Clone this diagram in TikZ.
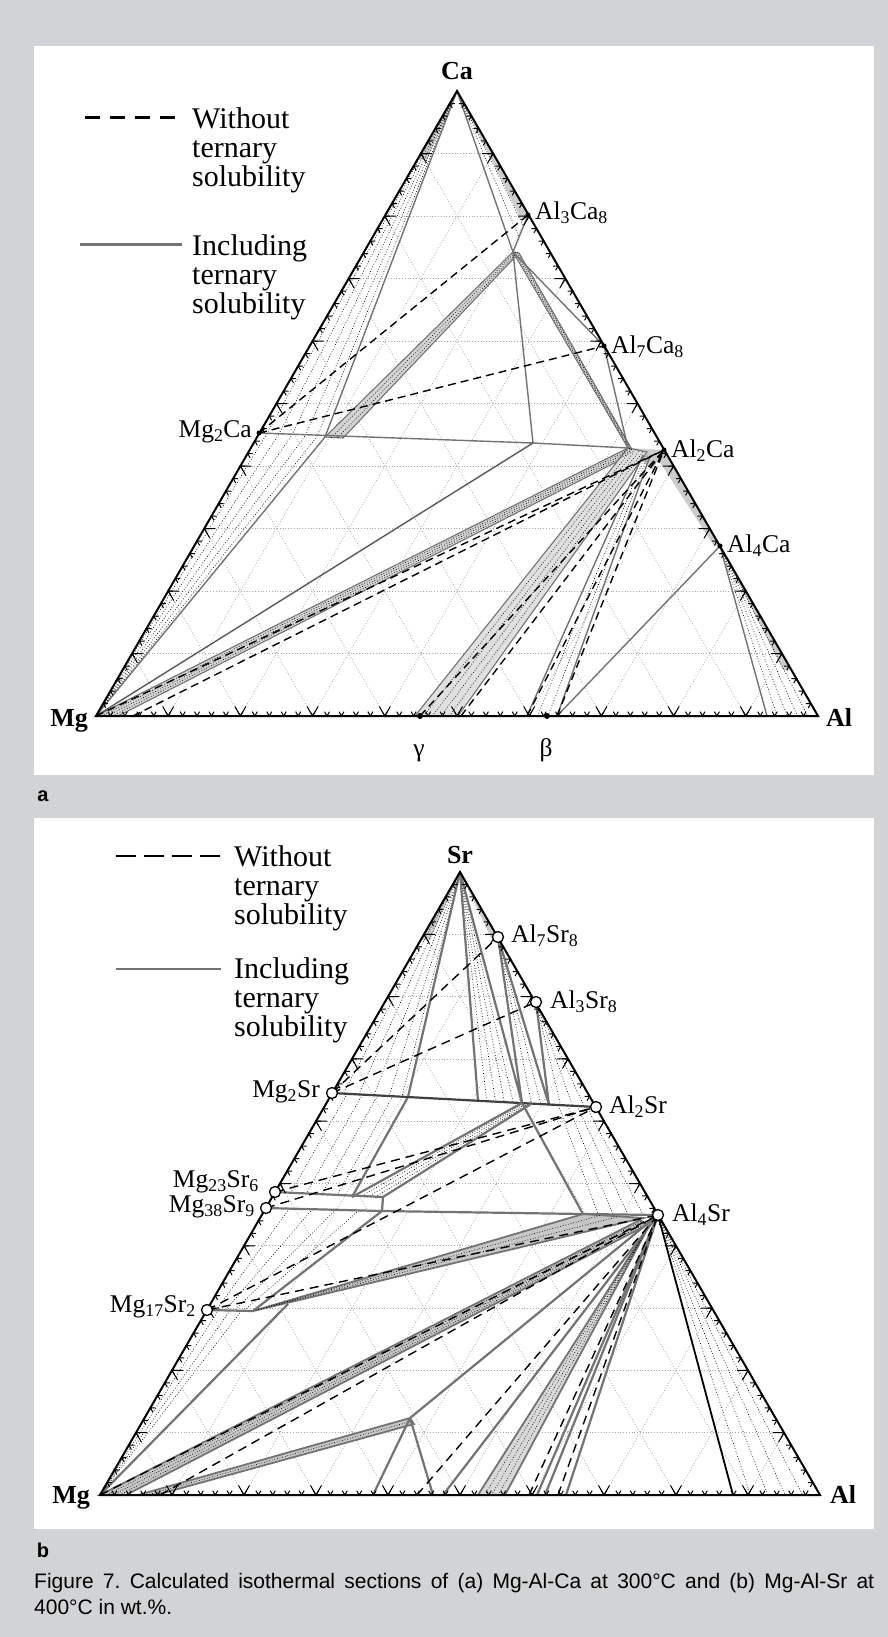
\documentclass[tikz,border=0pt]{standalone}
\usepackage{fontspec}
\setmainfont{Liberation Serif}
\setsansfont{Liberation Sans}
\usetikzlibrary{calc}
\definecolor{pagegray}{RGB}{210,211,213}
\definecolor{solgray}{RGB}{115,115,115}
\tikzset{rim/.style={line width=2pt,line join=miter},
gridln/.style={draw=black!35,dotted,line width=0.8pt},
tk/.style={line width=1pt},
withSol/.style={draw=solgray,line width=1.4pt},
withSolB/.style={draw=solgray,line width=2.2pt},
noSol/.style={dash pattern=on 8pt off 5pt,line width=1.4pt},
noSolB/.style={dash pattern=on 9pt off 6pt,line width=1.4pt},
tie/.style={dotted,line width=0.7pt},
band/.style={fill=black!17,draw=solgray,line width=1.1pt},
bandB/.style={fill=black!22,draw=solgray,line width=1.8pt},
lbl/.style={font=\fontsize{25.5}{26}\selectfont,inner sep=0pt},
elem/.style={font=\bfseries\fontsize{26}{26}\selectfont,inner sep=0pt},
keytext/.style={font=\fontsize{30}{29}\selectfont,align=left,inner sep=0pt,anchor=north west},
dotpt/.style={circle,fill=black,inner sep=0pt,minimum size=5pt},
ring/.style={circle,draw,fill=white,line width=1.3pt,inner sep=0pt,minimum size=11pt}}

\begin{document}
\frenchspacing
\begin{tikzpicture}[x=1pt,y=-1pt]
\fill[pagegray] (0,0) rectangle (888,1637);
\useasboundingbox (0,0) rectangle (888,1637);
\fill[white] (34,46) rectangle (874,775);
\fill[white] (34,818) rectangle (874,1529);

% ---------------- (a) Mg-Al-Ca ----------------
\coordinate (MgA) at (96,716);
\coordinate (AlA) at (818,716);
\coordinate (CaA) at (457,91);
\coordinate (Al3Ca8) at (528,215);
\coordinate (Al7Ca8) at (604,346);
\coordinate (Al2Ca) at (664,450);
\coordinate (Al4Ca) at (720,546);
\coordinate (Mg2Ca) at (259,433);
\coordinate (tA) at (513,252);
\coordinate (tB) at (533,443);
\coordinate (pL) at (628,448);
\coordinate (pM) at (634,453);
\coordinate (pR) at (647,452);
\coordinate (tP) at (519,253);
\coordinate (qA) at (325,437);
\coordinate (qB) at (343,438);
\coordinate (qT) at (517,255);
\coordinate (bT1) at (643,455);
\coordinate (bT2) at (650,456);
\coordinate (mgS) at (118,716);
\coordinate (mgT) at (133,716);
\coordinate (gL) at (415,716);
\coordinate (gam) at (420,716);
\coordinate (gR) at (458,716);
\coordinate (gD) at (461,716);
\coordinate (bL) at (527,716);
\coordinate (bet) at (547,716);
\coordinate (bR) at (557,716);
\coordinate (alS) at (767,716);

\foreach \i in {1,...,9}{
  \draw[gridln] ($(MgA)!\i/10!(CaA)$) -- ($(AlA)!\i/10!(CaA)$);
  \draw[gridln] ($(MgA)!\i/10!(AlA)$) -- ($(CaA)!\i/10!(AlA)$);
  \draw[gridln] ($(AlA)!\i/10!(MgA)$) -- ($(CaA)!\i/10!(MgA)$);
}

% narrow fields along the edges
\fill[black!20] (CaA) -- (417,160) -- (427,160) -- cycle;
\fill[black!20] (CaA) -- (Al3Ca8) -- (521,219) -- cycle;
\fill[black!20] (Al2Ca) -- (Al4Ca) -- (714,546) -- (656,456) -- cycle;
\fill[black!20] (Al4Ca) -- (791,670) -- (783,670) -- cycle;
\fill[black!20] (pL) -- (Al2Ca) -- (652,470) -- cycle;

% bands
\filldraw[band] (qA) -- (tA) -- (qT) -- (qB) -- cycle;
\filldraw[band] (tA) -- (pL) -- (pM) -- (tP) -- cycle;
\filldraw[band] (MgA) -- (pL) -- (pM) -- (mgS) -- cycle;
\filldraw[band,fill=black!12] (gL) -- (pL) -- (pR) -- (gR) -- cycle;
\foreach \f in {0.35,0.7}{
  \draw[tie] ($(qA)!\f!(qB)$) -- ($(tA)!\f!(qT)$);
  \draw[tie] ($(tA)!\f!(tP)$) -- ($(pL)!\f!(pM)$);
}
\foreach \f in {0.25,0.5,0.75}
  \draw[tie] ($(MgA)!\f!(mgS)$) -- ($(pL)!\f!(pM)$);
\foreach \f in {0.2,0.4,0.6,0.8}
  \draw[tie] ($(gL)!\f!(gR)$) -- ($(pL)!\f!(pR)$);

% tie lines
\foreach \f in {0.12,0.3,0.5,0.7,0.88}{
  \draw[tie] (CaA) -- ($(Mg2Ca)!\f!(qA)$);
  \draw[tie] (MgA) -- ($(Mg2Ca)!\f!(qA)$);
}
\foreach \f in {0.3,0.6}
  \draw[tie] (CaA) -- ($(Al3Ca8)!\f!(tA)$);
\foreach \f in {0.35,0.7}
  \draw[tie] ($(bL)!\f!(bR)$) -- ($(bT1)!\f!(bT2)$);
\foreach \f in {0.2,0.4,0.6,0.8}
  \draw[tie] (Al4Ca) -- ($(alS)!\f!(AlA)$);

% including ternary solubility
\draw[withSol] (CaA) -- (qA) -- (MgA);
\draw[withSol] (CaA) -- (tA) -- (Al3Ca8);
\draw[withSol] (tA) -- (Al7Ca8) -- (pL);
\draw[withSol] (tA) -- (tB);
\draw[withSol] (Mg2Ca) -- (tB) -- (pL);
\draw[withSol,draw=black!65] (tB) -- (MgA);
\draw[withSol] (bL) -- (bT1);
\draw[withSol] (bR) -- (bT2);
\draw[withSol] (bR) -- (Al4Ca);
\draw[withSol] (alS) -- (Al4Ca);

% without ternary solubility
\draw[noSol] (Mg2Ca) -- (Al3Ca8);
\draw[noSol] (Mg2Ca) -- (Al7Ca8);
\draw[noSol] (MgA) -- (Al2Ca);
\draw[noSol] (mgT) -- (Al2Ca);
\draw[noSol] (gam) -- (Al2Ca);
\draw[noSol] (gD) -- (Al2Ca);
\draw[noSol] (bL) -- (Al2Ca);
\draw[noSol] (bR) -- (Al2Ca);

\draw[rim] (MgA) -- (AlA) -- (CaA) -- cycle;
\foreach \k in {1,...,49}{
  \draw[tk] ($(MgA)!\k/50!(AlA)$) +(-60:5) -- +(0,0) -- +(-120:5);
  \draw[tk] ($(MgA)!\k/50!(CaA)$) +(0:5) -- +(0,0) -- +(60:5);
  \draw[tk] ($(AlA)!\k/50!(CaA)$) +(180:5) -- +(0,0) -- +(120:5);
}
\foreach \k in {5,10,...,45}{
  \draw[tk] ($(MgA)!\k/50!(AlA)$) +(-60:11) -- +(0,0) -- +(-120:11);
  \draw[tk] ($(MgA)!\k/50!(CaA)$) +(0:11) -- +(0,0) -- +(60:11);
  \draw[tk] ($(AlA)!\k/50!(CaA)$) +(180:11) -- +(0,0) -- +(120:11);
}

\node[dotpt] (dAl3Ca8) at (Al3Ca8) {};
\node[dotpt] (dAl7Ca8) at (Al7Ca8) {};
\node[dotpt] (dAl2Ca) at (Al2Ca) {};
\node[dotpt] (dAl4Ca) at (Al4Ca) {};
\node[dotpt] (dMg2Ca) at (Mg2Ca) {};
\node[dotpt,minimum size=6pt] (dgam) at (gam) {};
\node[dotpt,minimum size=6pt] (dbet) at (bet) {};

\node[elem,anchor=base] (lCa) at (457,80) {Ca};
\node[elem,anchor=base east] (lMgA) at (88,726) {Mg};
\node[elem,anchor=base west] (lAlA) at (826,726) {Al};
\node[lbl,anchor=west] (lAl3Ca8) at (535,213) {Al\textsubscript{3}Ca\textsubscript{8}};
\node[lbl,anchor=west] (lAl7Ca8) at (611,347) {Al\textsubscript{7}Ca\textsubscript{8}};
\node[lbl,anchor=west] (lAl2Ca) at (671,451) {Al\textsubscript{2}Ca};
\node[lbl,anchor=west] (lAl4Ca) at (727,546) {Al\textsubscript{4}Ca};
\node[lbl,anchor=east] (lMg2Ca) at (252,432) {Mg\textsubscript{2}Ca};
\node[lbl,anchor=base] (lgam) at (419,756) {γ};
\node[lbl,anchor=base] (lbet) at (546,756) {β};

\draw[line width=3pt,dash pattern=on 15pt off 10pt] (85,118) -- (180,118);
\node[keytext] (woA) at (192,107) {Without\\ternary\\solubility};
\draw[withSol,line width=3pt] (80,245) -- (182,245);
\node[keytext] (inA) at (192,234) {Including\\ternary\\solubility};

\node[font=\sffamily\bfseries\fontsize{20}{20}\selectfont] (tagA) at (43,796) {a};

% ---------------- (b) Mg-Al-Sr ----------------
\coordinate (MgB) at (100,1495);
\coordinate (AlB) at (820,1495);
\coordinate (SrB) at (460,872);
\coordinate (Al7Sr8) at (498,937);
\coordinate (Al3Sr8) at (536,1002);
\coordinate (Al2Sr) at (596,1107);
\coordinate (Al4Sr) at (658,1215);
\coordinate (Mg2Sr) at (332,1093);
\coordinate (Mg23Sr6) at (275,1192);
\coordinate (Mg38Sr9) at (266,1208);
\coordinate (Mg17Sr2) at (207,1310);
\coordinate (rA) at (408,1097);
\coordinate (rB) at (478,1101);
\coordinate (rC) at (522,1103);
\coordinate (rD) at (549,1105);
\coordinate (rE) at (352,1197);
\coordinate (rF) at (383,1197);
\coordinate (rG) at (382,1211);
\coordinate (rH) at (583,1214);
\coordinate (rJ) at (531,1104);
\coordinate (uA) at (253,1311);
\coordinate (uB) at (288,1304);
\coordinate (vA) at (410,1418);
\coordinate (vB) at (414,1424);
\coordinate (cT) at (643,1218);
\coordinate (dT1) at (640,1220);
\coordinate (dT2) at (647,1225);
\coordinate (sT) at (650,1224);
\coordinate (mgS2) at (126,1495);
\coordinate (eL) at (138,1495);
\coordinate (eR) at (156,1495);
\coordinate (mgT2) at (160,1495);
\coordinate (vL) at (373,1495);
\coordinate (gam2) at (417,1495);
\coordinate (vR) at (433,1495);
\coordinate (f1) at (443,1495);
\coordinate (f2) at (478,1495);
\coordinate (f3) at (505,1495);
\coordinate (f4) at (529,1495);
\coordinate (f5) at (537,1495);
\coordinate (f6) at (545,1495);
\coordinate (f7) at (558,1495);
\coordinate (f8) at (566,1495);
\coordinate (alS2) at (733,1495);

\foreach \i in {1,...,9}{
  \draw[gridln] ($(MgB)!\i/10!(SrB)$) -- ($(AlB)!\i/10!(SrB)$);
  \draw[gridln] ($(MgB)!\i/10!(AlB)$) -- ($(SrB)!\i/10!(AlB)$);
  \draw[gridln] ($(AlB)!\i/10!(MgB)$) -- ($(SrB)!\i/10!(MgB)$);
}

\fill[black!20] (SrB) -- (421,940) -- (430,940) -- cycle;
\fill[black!20] (SrB) -- (Al7Sr8) -- (491,938) -- cycle;

% bands
\filldraw[bandB] (uA) -- (rH) -- (cT) -- cycle;
\filldraw[bandB] (MgB) -- (dT1) -- (dT2) -- (mgS2) -- cycle;
\filldraw[bandB] (eL) -- (vA) -- (vB) -- (eR) -- cycle;
\filldraw[bandB,fill=black!15] (f2) -- (sT) -- (f3) -- cycle;
\foreach \f in {0.3,0.6}
  \draw[tie] (uA) -- ($(rH)!\f!(cT)$);
\foreach \f in {0.25,0.5,0.75}{
  \draw[tie] ($(MgB)!\f!(mgS2)$) -- ($(dT1)!\f!(dT2)$);
  \draw[tie] ($(f2)!\f!(f3)$) -- (sT);
}
\draw[tie] ($(eL)!0.5!(eR)$) -- ($(vA)!0.5!(vB)$);

% tie lines
\foreach \f in {0.15,0.35,0.55,0.75,0.92}
  \draw[tie] (SrB) -- ($(Mg2Sr)!\f!(rA)$);
\foreach \f in {0.2,0.4,0.6,0.8}{
  \draw[tie] (SrB) -- ($(rB)!\f!(rC)$);
  \draw[tie] ($(Mg2Sr)!\f!(rA)$) -- ($(Mg23Sr6)!\f!(rE)$);
  \draw[tie] ($(Mg38Sr9)!\f!(rG)$) -- ($(Mg17Sr2)!\f!(uA)$);
  \draw[tie] ($(rD)!\f!(Al2Sr)$) -- ($(rH)!\f!(Al4Sr)$);
  \draw[tie] (Al4Sr) -- ($(alS2)!\f!(AlB)$);
}
\foreach \f in {0.35,0.7}
  \draw[tie] (Al7Sr8) -- ($(rC)!\f!(rD)$);
\foreach \f in {0.25,0.5,0.75}{
  \draw[tie] (Al3Sr8) -- ($(rD)!\f!(Al2Sr)$);
  \draw[tie] ($(Mg17Sr2)!\f!(uA)$) -- (MgB);
  \draw[tie] ($(rE)!\f!(rF)$) -- ($(rC)!\f!(rJ)$);
}

% including ternary solubility
\draw[withSolB] (SrB) -- (rA) -- (rE);
\draw[withSolB] (SrB) -- (rB);
\draw[withSolB] (SrB) -- (rC) -- (Al7Sr8);
\draw[withSolB] (Al7Sr8) -- (rD) -- (Al3Sr8);
\draw[withSolB,draw=black!75] (Mg2Sr) -- (Al2Sr);
\draw[withSolB] (rC) -- (rH);
\draw[withSolB] (Mg23Sr6) -- (rF) -- (rG);
\draw[withSolB] (Mg38Sr9) -- (rG) -- (rH) -- (Al4Sr);
\draw[withSolB] (rE) -- (rC);
\draw[withSolB] (rF) -- (rJ);
\draw[withSolB] (rG) -- (uA) -- (Mg17Sr2);
\draw[withSolB] (MgB) -- (uB);
\draw[withSolB] (vL) -- (vA) -- (Al4Sr);
\draw[withSolB] (vA) -- (vR);
\draw[withSolB] (f1) -- (Al4Sr);
\draw[withSolB] (f5) -- (Al4Sr);
\draw[withSolB] (f6) -- (Al4Sr);
\draw[withSolB] (f8) -- (Al4Sr);
\draw[line width=1.8pt] (alS2) -- (Al4Sr);

% without ternary solubility
\draw[noSolB] (Mg2Sr) -- (Al7Sr8);
\draw[noSolB] (Mg2Sr) -- (Al3Sr8);
\draw[noSolB] (Mg23Sr6) -- (Al2Sr);
\draw[noSolB] (Mg38Sr9) -- (Al2Sr);
\draw[noSolB] (Mg17Sr2) -- (Al2Sr);
\draw[noSolB] (Mg17Sr2) -- (Al4Sr);
\draw[noSolB] (MgB) -- (Al4Sr);
\draw[noSolB] (mgT2) -- (Al4Sr);
\draw[noSolB] (gam2) -- (Al4Sr);
\draw[noSolB] (f4) -- (Al4Sr);
\draw[noSolB] (f7) -- (Al4Sr);

\draw[rim] (MgB) -- (AlB) -- (SrB) -- cycle;
\foreach \k in {1,...,49}{
  \draw[tk] ($(MgB)!\k/50!(AlB)$) +(-60:5) -- +(0,0) -- +(-120:5);
  \draw[tk] ($(MgB)!\k/50!(SrB)$) +(0:5) -- +(0,0) -- +(60:5);
  \draw[tk] ($(AlB)!\k/50!(SrB)$) +(180:5) -- +(0,0) -- +(120:5);
}
\foreach \k in {5,10,...,45}{
  \draw[tk] ($(MgB)!\k/50!(AlB)$) +(-60:11) -- +(0,0) -- +(-120:11);
  \draw[tk] ($(MgB)!\k/50!(SrB)$) +(0:11) -- +(0,0) -- +(60:11);
  \draw[tk] ($(AlB)!\k/50!(SrB)$) +(180:11) -- +(0,0) -- +(120:11);
}

\node[ring] (oAl7Sr8) at (Al7Sr8) {};
\node[ring] (oAl3Sr8) at (Al3Sr8) {};
\node[ring] (oAl2Sr) at (Al2Sr) {};
\node[ring] (oAl4Sr) at (Al4Sr) {};
\node[ring] (oMg2Sr) at (Mg2Sr) {};
\node[ring] (oMg23Sr6) at (Mg23Sr6) {};
\node[ring] (oMg38Sr9) at (Mg38Sr9) {};
\node[ring] (oMg17Sr2) at (Mg17Sr2) {};

\node[elem,anchor=base] (lSr) at (460,863) {Sr};
\node[elem,anchor=base east] (lMgB) at (90,1503) {Mg};
\node[elem,anchor=base west] (lAlB) at (830,1503) {Al};
\node[lbl,anchor=west] (lAl7Sr8) at (511,936) {Al\textsubscript{7}Sr\textsubscript{8}};
\node[lbl,anchor=west] (lAl3Sr8) at (550,1002) {Al\textsubscript{3}Sr\textsubscript{8}};
\node[lbl,anchor=west] (lAl2Sr) at (609,1107) {Al\textsubscript{2}Sr};
\node[lbl,anchor=west] (lAl4Sr) at (672,1215) {Al\textsubscript{4}Sr};
\node[lbl,anchor=east] (lMg2Sr) at (320,1092) {Mg\textsubscript{2}Sr};
\node[lbl,anchor=east] (lMg23Sr6) at (259,1182) {Mg\textsubscript{23}Sr\textsubscript{6}};
\node[lbl,anchor=east] (lMg38Sr9) at (255,1207) {Mg\textsubscript{38}Sr\textsubscript{9}};
\node[lbl,anchor=east] (lMg17Sr2) at (196,1307) {Mg\textsubscript{17}Sr\textsubscript{2}};

\draw[line width=2pt,dash pattern=on 20pt off 8pt] (116,856) -- (221,856);
\node[keytext] (woB) at (234,845) {Without\\ternary\\solubility};
\draw[withSol,line width=2.5pt] (116,969) -- (221,969);
\node[keytext] (inB) at (234,957) {Including\\ternary\\solubility};

\node[font=\sffamily\bfseries\fontsize{20}{20}\selectfont] (tagB) at (43,1550) {b};

\node[anchor=north west,inner sep=0pt,text width=840pt,align=justify,font=\sffamily\fontsize{21}{26.5}\selectfont] (cap) at (34,1573) {Figure 7. Calculated isothermal sections of (a) Mg-Al-Ca at 300°C and (b) Mg-Al-Sr at\linebreak 400°C in wt.\%.};
\end{tikzpicture}
\end{document}
